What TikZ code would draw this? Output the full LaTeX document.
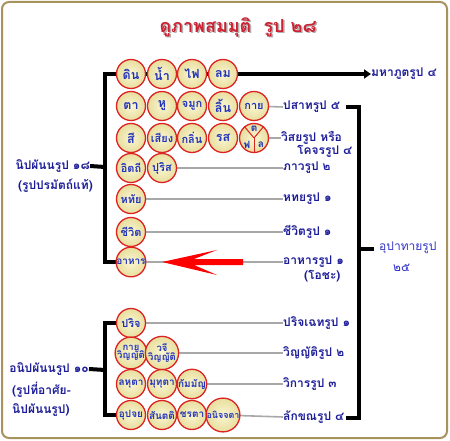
\documentclass[tikz,border=0pt]{standalone}
\usepackage{fontspec}
\newfontfamily\thai[Script=Thai]{Loma}
\usetikzlibrary{arrows.meta}
\definecolor{framegold}{HTML}{A8925E}
\definecolor{titlered}{HTML}{CC2233}
\definecolor{shadowgray}{HTML}{B0B0B0}
\definecolor{ballred}{HTML}{DD2222}
\definecolor{ballin}{HTML}{FAF6D2}
\definecolor{ballout}{HTML}{E8DE9E}
\definecolor{ballblue}{HTML}{2233BB}
\definecolor{labblue}{HTML}{1C1C99}
\definecolor{upablue}{HTML}{3333CC}
\definecolor{conngray}{HTML}{A8A8A8}
\definecolor{arrred}{HTML}{FF0000}
\pgfdeclarelayer{bg}
\pgfsetlayers{bg,main}
\tikzset{
  ball/.style={circle, draw=ballred, line width=1.3pt, inner sep=0pt, minimum size=29pt,
    inner color=ballin, outer color=ballout, text=ballblue,
    font=\thai\bfseries\fontsize{12.5}{12}\selectfont, align=center},
  smallball/.style={ball, font=\thai\bfseries\fontsize{11}{11}\selectfont},
  tinyball/.style={ball, font=\thai\bfseries\fontsize{10}{10}\selectfont},
  lab/.style={anchor=west, inner sep=0pt, text=labblue, font=\thai\bfseries\fontsize{12}{13}\selectfont},
  leftlab/.style={inner sep=0pt, text=labblue, font=\thai\bfseries\fontsize{12}{13}\selectfont},
  conn/.style={draw=conngray, line width=1.6pt},
  brk/.style={draw=black, line width=4pt},
  seg/.style={draw=ballred, line width=1pt}
}
\begin{document}
\begin{tikzpicture}[x=1pt,y=-1pt]
\useasboundingbox (0,0) rectangle (450,441);
\draw[framegold, line width=2pt, rounded corners=7pt] (2,2) rectangle (447,438);

% title
\node[text=shadowgray, font=\thai\bfseries\fontsize{18}{19}\selectfont] (titlesh) at (239.5,28.5) {ดูภาพสมมุติ~~รูป ๒๘};
\node[text=titlered, font=\thai\bfseries\fontsize{18}{19}\selectfont] (title) at (238,27) {ดูภาพสมมุติ~~รูป ๒๘};

% circles upper group
\node[ball] (a1) at (131,74) {ดิน};
\node[ball] (a2) at (162,74) {น้ำ};
\node[ball] (a3) at (192,74) {ไฟ};
\node[ball] (a4) at (223,74) {ลม};

\node[ball] (b1) at (131,106) {ตา};
\node[ball] (b2) at (162,106) {หู};
\node[smallball] (b3) at (192,106) {จมูก};
\node[ball] (b4) at (223,106) {ลิ้น};
\node[smallball] (b5) at (254,106) {กาย};

\node[ball] (c1) at (131,138) {สี};
\node[smallball] (c2) at (162,138) {เสียง};
\node[smallball] (c3) at (192,138) {กลิ่น};
\node[ball] (c4) at (223,138) {รส};
\node[ball] (c5) at (254,138) {};
\draw[seg] (c5.center) -- (c5.130);
\draw[seg] (c5.center) -- (c5.50);
\draw[seg] (c5.center) -- (c5.270);
\node[text=ballblue, font=\thai\bfseries\fontsize{10}{10}\selectfont, inner sep=0pt] (c5t) at (254,128.5) {ต};
\node[text=ballblue, font=\thai\bfseries\fontsize{10}{10}\selectfont, inner sep=0pt] (c5f) at (247,145) {ฟ};
\node[text=ballblue, font=\thai\bfseries\fontsize{10}{10}\selectfont, inner sep=0pt] (c5l) at (261,145) {ล};

\node[smallball] (d1) at (131,168) {อิตถี};
\node[smallball] (d2) at (162,168) {ปุริส};
\node[smallball] (e1) at (131,199) {หทัย};
\node[smallball] (f1) at (131,232) {ชีวิต};
\node[tinyball] (g1) at (131,262) {อาหาร};

% circles lower group
\node[smallball] (h1) at (131,323) {ปริจ};
\node[ball, font=\thai\bfseries\fontsize{9.5}{8.5}\selectfont] (i1) at (131,353) {กาย\\วิญญัติ};
\node[ball, font=\thai\bfseries\fontsize{9.5}{8.5}\selectfont] (i2) at (162,353) {วจี\\วิญญัติ};
\node[tinyball] (j1) at (131,384) {ลหุตา};
\node[tinyball] (j2) at (162,384) {มุทุตา};
\node[tinyball] (j3) at (192,384) {กัมมัญ};
\node[tinyball] (k1) at (131,415) {อุปจย};
\node[tinyball] (k2) at (162,415) {สันตติ};
\node[tinyball] (k3) at (192,415) {ชรตา};
\node[ball, font=\thai\bfseries\fontsize{9}{9}\selectfont] (k4) at (223,415) {อนิจจตา};

% right labels
\node[lab] (mahabhut) at (371,74) {มหาภูตรูป ๔};
\node[lab] (pasada) at (283,107) {ปสาทรูป ๕};
\node[lab] (visaya) at (281,138) {วิสยรูป หรือ};
\node[lab] (kocara) at (297,151) {โคจรรูป ๔};
\node[lab] (bhava) at (283,168) {ภาวรูป ๒};
\node[lab] (hadaya) at (283,199) {หทยรูป ๑};
\node[lab] (jivita) at (283,232) {ชีวิตรูป ๑};
\node[lab] (ahara) at (283,262) {อาหารรูป ๑};
\node[lab] (oja) at (304,276) {(โอชะ)};
\node[lab] (paricche) at (283,323) {ปริจเฉทรูป ๑};
\node[lab] (vinnatti) at (283,353) {วิญญัติรูป ๒};
\node[lab] (vikara) at (283,384) {วิการรูป ๓};
\node[lab] (lakkhana) at (283,417) {ลักขณรูป ๔};

\node[lab, text=upablue, font=\thai\fontsize{12}{13}\selectfont] (upada) at (379,248) {อุปาทายรูป};
\node[lab, text=upablue, font=\thai\fontsize{12}{13}\selectfont] (upada25) at (393,268) {๒๕};

% left labels
\node[leftlab, anchor=east] (nip) at (90,166) {นิปผันนรูป ๑๘};
\node[leftlab, anchor=east] (nip2) at (93,186) {(รูปปรมัตถ์แท้)};
\node[leftlab, anchor=east] (anip) at (89,369) {อนิปผันนรูป ๑๐};
\node[leftlab, anchor=west] (anip2) at (12,390) {(รูปที่อาศัย-};
\node[leftlab, anchor=west] (anip3) at (12,410) {นิปผันนรูป)};

% bracket coordinates
\coordinate (u1t) at (105,74);
\coordinate (u1b) at (105,262);
\coordinate (u1m) at (105,167);
\coordinate (l1t) at (105,323);
\coordinate (l1b) at (105,415);
\coordinate (l1m) at (105,370);
\coordinate (rtop) at (359,107);
\coordinate (rbot) at (359,418);
\coordinate (rmid) at (359,249);
\coordinate (rtopin) at (346,107);
\coordinate (rbotin) at (346,418);
\coordinate (rmidout) at (374,249);

\begin{pgfonlayer}{bg}
  % thick black brackets
  \draw[brk, -{Triangle[length=7pt,width=9pt]}] (u1t) -- (mahabhut.west);
  \draw[brk] (g1.center) -- (u1b) -- (u1t) -- ([xshift=2pt]u1t);
  \draw[brk] (nip.east) -- (u1m);
  \draw[brk] (h1.center) -- (l1t) -- (l1b) -- (k1.center);
  \draw[brk] (anip.east) -- (l1m);
  \draw[brk] (rtopin) -- (rtop) -- (rbot) -- (rbotin);
  \draw[brk] (rmid) -- (rmidout);
  % gray connectors
  \draw[conn] (b5.center) -- (pasada.west);
  \draw[conn] (c5.center) -- (visaya.west);
  \draw[conn] (d2.center) -- (bhava.west);
  \draw[conn] (e1.center) -- (hadaya.west);
  \draw[conn] (f1.center) -- (jivita.west);
  \draw[conn] (g1.center) -- (ahara.west);
  \draw[conn] (h1.center) -- (paricche.west);
  \draw[conn] (i2.center) -- (vinnatti.west);
  \draw[conn] (j3.center) -- (vikara.west);
  \draw[conn] (k4.center) -- (lakkhana.west);
\end{pgfonlayer}

% big red arrow
\fill[arrred] (162,262) -- (217,250) -- (194,259) -- (243,259) -- (243,265) -- (194,265) -- (217,275) -- cycle;
\end{tikzpicture}
\end{document}
